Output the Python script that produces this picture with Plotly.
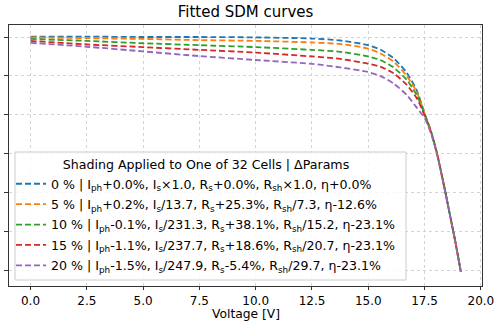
import plotly.graph_objects as go

# Voltage samples [V]
voltage = [0.0, 2.5, 5.0, 7.5, 10.0, 12.5, 13.75, 14.94, 15.53, 16.12, 16.71, 17.16,
           17.52, 17.8, 18.05, 18.34, 18.61, 18.87, 19.11]

# Current [A] per shading level
current_0 = [6.01, 6.01, 6.00, 6.00, 5.99, 5.96, 5.91, 5.80, 5.68, 5.46, 5.08, 4.62,
             4.01, 3.55, 3.02, 2.25, 1.48, 0.73, -0.03]
current_5 = [5.99, 5.97, 5.95, 5.92, 5.90, 5.86, 5.82, 5.71, 5.58, 5.37, 5.00, 4.58,
             4.00, 3.55, 3.02, 2.25, 1.48, 0.73, -0.03]
current_10 = [5.95, 5.90, 5.84, 5.79, 5.74, 5.67, 5.62, 5.51, 5.41, 5.22, 4.90, 4.50,
              3.98, 3.54, 3.02, 2.25, 1.48, 0.73, -0.03]
current_15 = [5.90, 5.81, 5.74, 5.67, 5.60, 5.50, 5.44, 5.32, 5.24, 5.07, 4.77, 4.42,
              3.96, 3.53, 3.01, 2.25, 1.48, 0.73, -0.03]
current_20 = [5.85, 5.75, 5.63, 5.51, 5.41, 5.31, 5.22, 5.11, 5.00, 4.81, 4.51, 4.18,
              3.90, 3.50, 3.00, 2.24, 1.48, 0.73, -0.03]

series = [current_0, current_5, current_10, current_15, current_20]

labels = [
    "0 % | I<sub>ph</sub>+0.0%, I<sub>s</sub>×1.0, R<sub>s</sub>+0.0%, R<sub>sh</sub>×1.0, η+0.0%",
    "5 % | I<sub>ph</sub>+0.2%, I<sub>s</sub>/13.7, R<sub>s</sub>+25.3%, R<sub>sh</sub>/7.3, η-12.6%",
    "10 % | I<sub>ph</sub>-0.1%, I<sub>s</sub>/231.3, R<sub>s</sub>+38.1%, R<sub>sh</sub>/15.2, η-23.1%",
    "15 % | I<sub>ph</sub>-1.1%, I<sub>s</sub>/237.7, R<sub>s</sub>+18.6%, R<sub>sh</sub>/20.7, η-23.1%",
    "20 % | I<sub>ph</sub>-1.5%, I<sub>s</sub>/247.9, R<sub>s</sub>-5.4%, R<sub>sh</sub>/29.7, η-23.1%",
]
colors = ["#1f77b4", "#ff7f0e", "#2ca02c", "#d62728", "#9467bd"]

x_ticks = [0.0, 2.5, 5.0, 7.5, 10.0, 12.5, 15.0, 17.5, 20.0]
y_ticks = [0, 1, 2, 3, 4, 5, 6]

fig = go.Figure()
for i, (cur, lab, col) in enumerate(zip(series, labels, colors)):
    fig.add_trace(go.Scatter(
        x=voltage, y=cur, mode="lines", name=lab, legendgroup=f"g{i}",
        line=dict(color=col, width=1.8, dash="6px,3px", shape="spline", smoothing=0.6),
    ))

# plot area in pixels: left 9, right 482, top 25, bottom 286
PW, PH = 473.0, 261.0

def px_x(px):
    return (px - 9) / PW

def px_y(py):
    return (286 - py) / PH

font_family = "DejaVu Sans"
fig.update_layout(
    width=495, height=323,
    margin=dict(l=9, r=13, t=25, b=37, autoexpand=False),
    paper_bgcolor="white", plot_bgcolor="white",
    font=dict(family=font_family, size=12, color="black"),
    title=dict(text="Fitted SDM curves", x=0.496, xanchor="center",
               y=1 - 12 / 323, yanchor="middle",
               font=dict(family=font_family, size=15, color="black")),
    showlegend=True,
    legend=dict(
        x=px_x(11), y=px_y(152.7), xanchor="left", yanchor="top",
        bgcolor="rgba(0,0,0,0)", borderwidth=0,
        font=dict(family=font_family, size=12.6, color="black"),
        title=dict(text="Shading Applied to One of 32 Cells | ΔParams", side="top center",
                   font=dict(family=font_family, size=12.6, color="black")),
        itemwidth=30, traceorder="grouped", tracegroupgap=1,
    ),
    shapes=[dict(
        type="rect", xref="paper", yref="paper",
        x0=px_x(15), x1=px_x(406), y0=px_y(280), y1=px_y(152),
        line=dict(color="#cccccc", width=1), fillcolor="rgba(255,255,255,0.8)",
        layer="above",
    )],
    annotations=[dict(
        text="Voltage [V]", xref="paper", yref="paper", x=px_x(245.5), y=px_y(313.5),
        xanchor="center", yanchor="middle", showarrow=False,
        font=dict(family=font_family, size=12.3, color="black"),
    )],
)
fig.update_xaxes(
    range=[-0.955, 20.05], tickmode="array", tickvals=x_ticks,
    ticktext=[f"{v:.1f}" for v in x_ticks],
    ticks="outside", ticklen=3, tickcolor="#333", tickwidth=1,
    showline=True, linecolor="#333", linewidth=1.2, mirror=True,
    showgrid=True, gridcolor="#d4d4d4", griddash="dot", gridwidth=1,
    zeroline=False,
)
fig.update_yaxes(
    range=[-0.393, 6.308], tickmode="array", tickvals=y_ticks,
    showticklabels=False,
    ticks="outside", ticklen=4, tickcolor="#333", tickwidth=1,
    showline=True, linecolor="#333", linewidth=1.2, mirror=True,
    showgrid=True, gridcolor="#d4d4d4", griddash="dot", gridwidth=1,
    zeroline=False,
)

fig.write_html("out.html")
